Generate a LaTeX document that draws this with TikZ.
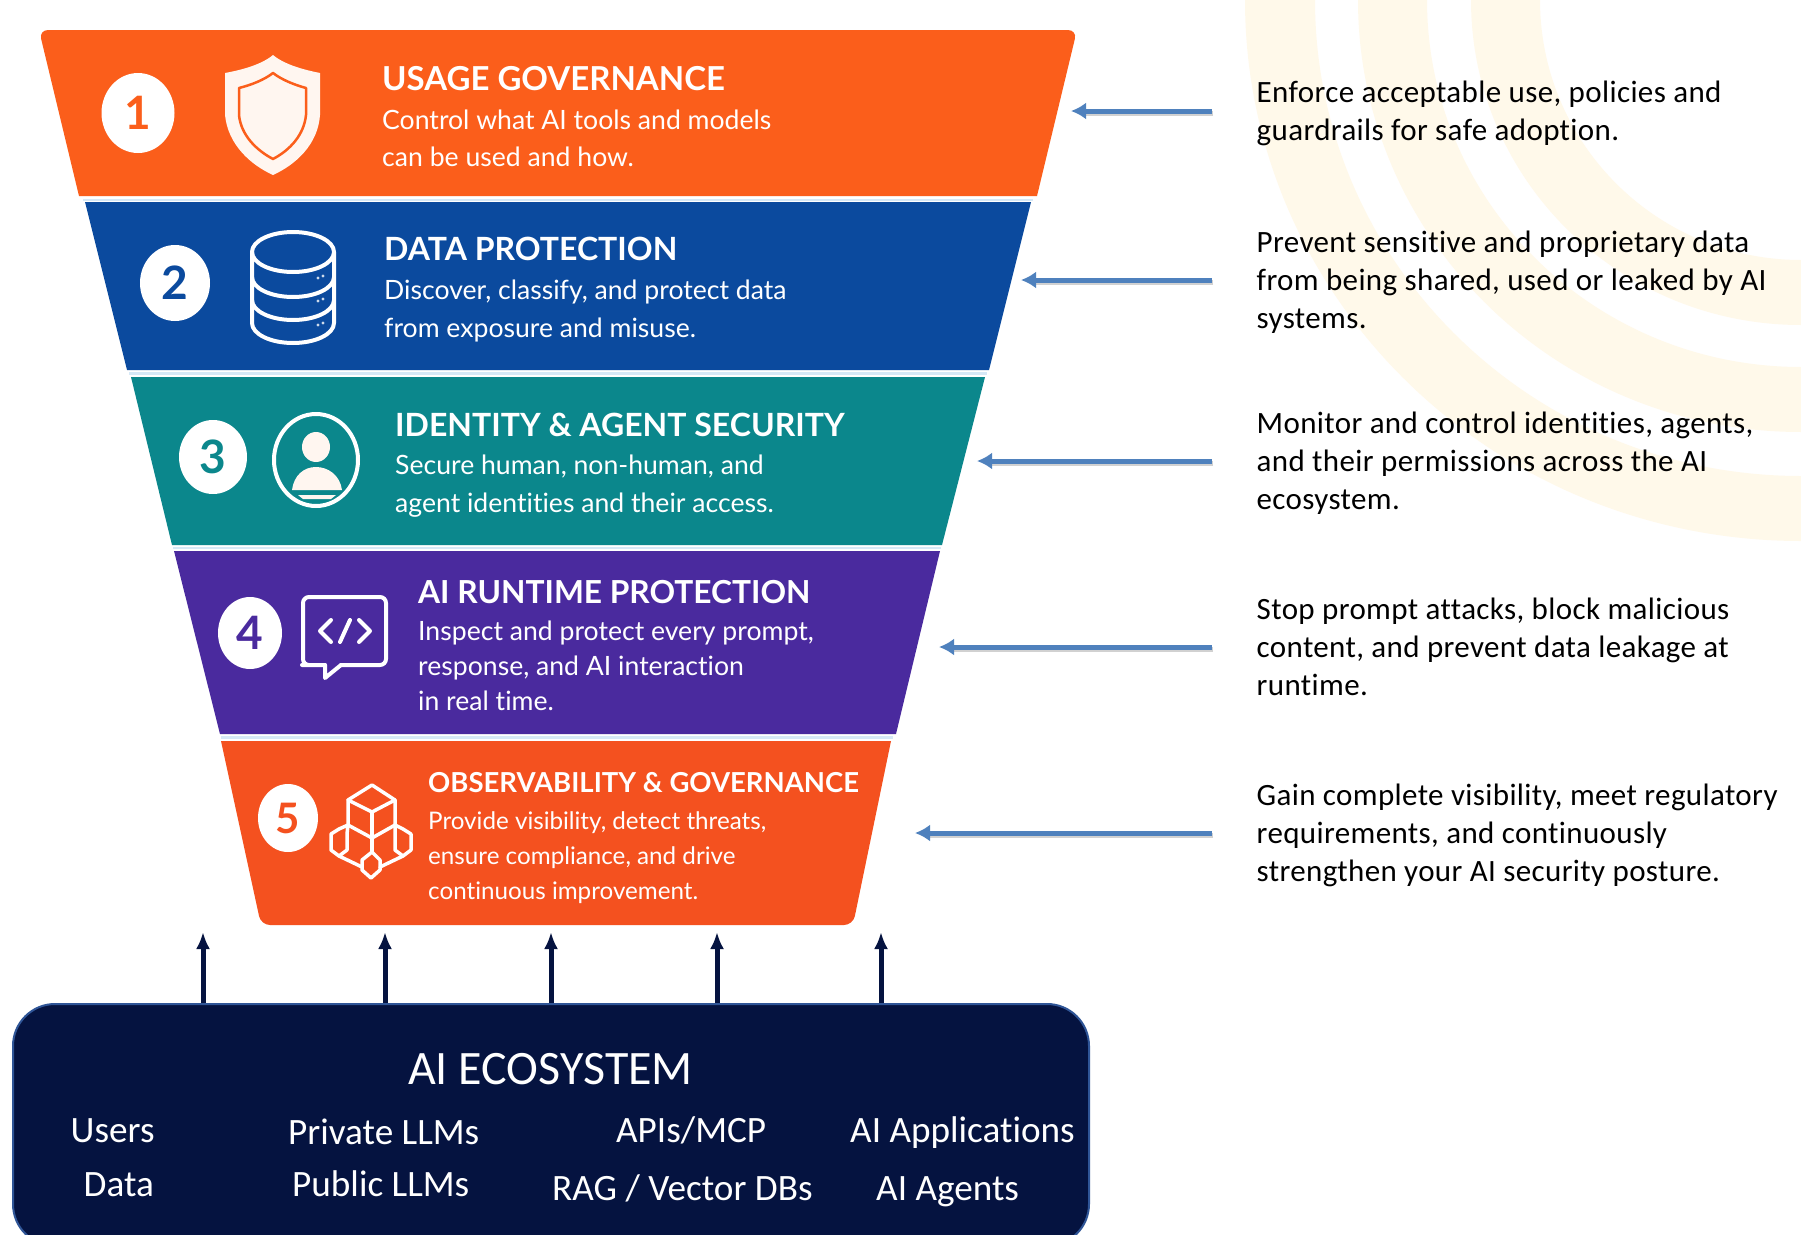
\documentclass[tikz,border=0pt]{standalone}
\usepackage{fontspec}
\usetikzlibrary{arrows.meta}
\newfontfamily\bandf[Ligatures=NoCommon]{Lato}
\newfontfamily\calf[Ligatures=NoCommon]{Carlito}
\newfontfamily\sidef[LetterSpace=1.2,Ligatures=NoCommon]{Carlito}
\definecolor{cOrange}{HTML}{FB5E1B}
\definecolor{cBlue}{HTML}{0B4A9E}
\definecolor{cTeal}{HTML}{0B878C}
\definecolor{cPurple}{HTML}{4A2A9E}
\definecolor{cRed}{HTML}{F4511F}
\definecolor{cNavy}{HTML}{051340}
\definecolor{cEdge}{HTML}{2F5597}
\definecolor{cArrow}{HTML}{4F81BD}
\definecolor{cRing}{HTML}{FFF9EA}
\definecolor{cGap}{HTML}{D6E8F6}
\definecolor{cIcon}{HTML}{FFF6F0}
\tikzset{
  x=1pt,y=-1pt,
  gapline/.style={draw=cGap,line width=2.5pt},
  numdisc/.style={fill=white,draw=none},
  numtext/.style={font=\bandf\bfseries\fontsize{46}{46}\selectfont,inner sep=0pt,anchor=center},
  title/.style={font=\bandf\bfseries\fontsize{32}{32}\selectfont,text=white,inner sep=0pt,anchor=base west},
  sub/.style={font=\bandf\fontsize{26.6}{26.6}\selectfont,text=white,inner sep=0pt,anchor=base west},
  subsmall/.style={sub,font=\bandf\fontsize{24.2}{24.2}\selectfont},
  icon/.style={draw=white,line width=4pt,line join=round,line cap=round},
  side/.style={font=\sidef\fontsize{31}{38}\selectfont,text=black,inner sep=0pt,anchor=north west,align=left},
  ecoT/.style={font=\calf\fontsize{37.2}{37.2}\selectfont,text=white,inner sep=0pt,anchor=base west},
  blueline/.style={draw=cArrow,line width=5pt,-{Latex[length=15pt,width=17pt]}},
  blueshadow/.style={draw=black,opacity=.18,line width=5pt},
  navyline/.style={draw=cNavy,line width=5pt,-{Latex[length=17pt,width=14pt]}},
  ring/.style={fill=cRing,draw=none},
}
\begin{document}
\begin{tikzpicture}
\useasboundingbox (0,0) rectangle (1801,1234);
\fill[white] (0,0) rectangle (1801,1234);
% background rings
\foreach \ox/\oy/\ix/\iy in {556/541/486/476,443/432/374/367,330/325/261/260}{
  \fill[ring] (1801-\ox,0) arc[start angle=180,end angle=90,x radius=\ox,y radius=\oy]
     -- (1801,\iy) arc[start angle=90,end angle=180,x radius=\ix,y radius=\iy] -- cycle;
}
% funnel bands
\fill[cOrange] (79,196) [rounded corners=9pt] -- (39,30) -- (1077,30) [sharp corners] -- (1037,196) -- cycle;
\fill[cBlue] (85,202) -- (1031,202) -- (989,370) -- (127,370) -- cycle;
\fill[cTeal] (131,377) -- (985,377) -- (942,545) -- (172,545) -- cycle;
\fill[cPurple] (174,551) -- (940,551) -- (896,734) -- (220,734) -- cycle;
\fill[cRed] (221,741) -- (891,741) [rounded corners=9pt] -- (853,925) -- (261,925) [sharp corners] -- cycle;
\draw[gapline] (83,200) -- (1033,200);
\draw[gapline] (129,373.5) -- (987,373.5);
\draw[gapline] (173,548) -- (941,548);
\draw[gapline] (221,737.5) -- (893,737.5);
% number discs
\fill[numdisc] (138,113) circle[x radius=36.5,y radius=40];
\node[numtext,text=cOrange] (n1) at (138,113) {1};
\fill[numdisc] (175,283) circle[x radius=35,y radius=38];
\node[numtext,text=cBlue] (n2) at (175,283) {2};
\fill[numdisc] (213,457) circle[x radius=34,y radius=37];
\node[numtext,text=cTeal] (n3) at (213,457) {3};
\fill[numdisc] (250,633) circle[x radius=32,y radius=36];
\node[numtext,text=cPurple] (n4) at (250,633) {4};
\fill[numdisc] (288,818) circle[x radius=30,y radius=34];
\node[numtext,text=cRed,font=\bandf\bfseries\fontsize{42}{42}\selectfont] (n5) at (288,818) {5};
% shield
\fill[cIcon] (273,55) .. controls (285,65) and (305,70) .. (320,73) -- (320,115)
  .. controls (318,145) and (295,165) .. (273,175)
  .. controls (251,165) and (228,145) .. (225,115) -- (225,73)
  .. controls (241,70) and (261,65) .. (273,55) -- cycle;
\draw[cOrange,line width=2.5pt,line join=round] (273,73) .. controls (282,80) and (295,85) .. (306,88) -- (306,115)
  .. controls (304,135) and (290,150) .. (273,159)
  .. controls (256,150) and (241,135) .. (239,115) -- (239,88)
  .. controls (251,85) and (264,80) .. (273,73) -- cycle;
% database
\draw[icon] (293,252) ellipse[x radius=41,y radius=20];
\draw[icon] (252,252) -- (252,323) arc[start angle=180,end angle=0,x radius=41,y radius=20] -- (334,252);
\draw[icon] (252,277) arc[start angle=180,end angle=0,x radius=41,y radius=20];
\draw[icon] (252,300) arc[start angle=180,end angle=0,x radius=41,y radius=20];
\foreach \dy in {278,301,325}{
  \fill[white,opacity=.8] (318,\dy) circle[radius=1.6] (323,\dy-2) circle[radius=1.6];
}
% person
\draw[icon] (316,460) ellipse[x radius=42,y radius=46];
\fill[cIcon] (316,447) ellipse[x radius=14,y radius=15];
\fill[cIcon] (292,490) .. controls (294,475) and (304,467) .. (316,467) .. controls (328,467) and (340,475) .. (342,490) -- cycle;
\fill[cIcon] (298,495) -- (336,495) -- (331,499) -- (303,499) -- cycle;
% code bubble
\draw[icon,rounded corners=6pt] (325,665) -- (308,665) -- (303,665) -- (303,597) -- (386,597) -- (386,665) -- (341,665);
\draw[icon] (325,665) -- (325,678) -- (341,665);
\draw[icon] (331,620) -- (320,631) -- (331,642);
\draw[icon] (340,642) -- (350,620);
\draw[icon] (359,620) -- (370,631) -- (359,642);
% cube
\draw[icon,line width=3.5pt] (372,785) -- (395,800) -- (395,825) -- (372,838) -- (348,825) -- (348,800) -- cycle;
\draw[icon,line width=3.5pt] (348,800) -- (372,812) -- (395,800);
\draw[icon,line width=3.5pt] (372,812) -- (372,852);
\draw[icon,line width=3.5pt] (348,825) -- (339,829) -- (331,834) -- (331,850) -- (339,856) -- (347,850) -- (347,834) -- cycle;
\draw[icon,line width=3.5pt] (395,825) -- (403,829) -- (411,834) -- (411,850) -- (403,856) -- (395,850) -- (395,834) -- cycle;
\draw[icon,line width=3.5pt] (339,856) -- (362,867);
\draw[icon,line width=3.5pt] (403,856) -- (380,867);
\draw[icon,line width=3.5pt] (372,852) -- (380,860) -- (380,870) -- (371,878) -- (362,870) -- (362,860) -- cycle;
% band texts
\node[title,font=\bandf\bfseries\fontsize{33}{33}\selectfont] (t1) at (382,90) {USAGE GOVERNANCE};
\node[sub] (s1a) at (382,129) {Control what AI tools and models};
\node[sub] (s1b) at (382,166) {can be used and how.};
\node[title] (t2) at (384,260) {DATA PROTECTION};
\node[sub] (s2a) at (384,299) {Discover, classify, and protect data};
\node[sub] (s2b) at (384,337) {from exposure and misuse.};
\node[title] (t3) at (395,436) {IDENTITY \& AGENT SECURITY};
\node[sub] (s3a) at (395,474) {Secure human, non-human, and};
\node[sub] (s3b) at (395,512) {agent identities and their access.};
\node[title,font=\bandf\bfseries\fontsize{31.7}{31.7}\selectfont] (t4) at (418,603) {AI RUNTIME PROTECTION};
\node[sub] (s4a) at (418,640) {Inspect and protect every prompt,};
\node[sub] (s4b) at (418,675) {response, and AI interaction};
\node[sub] (s4c) at (418,710) {in real time.};
\node[title,font=\bandf\bfseries\fontsize{27.5}{27.5}\selectfont] (t5) at (428,792) {OBSERVABILITY \& GOVERNANCE};
\node[subsmall] (s5a) at (428,829) {Provide visibility, detect threats,};
\node[subsmall] (s5b) at (428,864) {ensure compliance, and drive};
\node[subsmall] (s5c) at (428,899) {continuous improvement.};
% side texts
\node[side] (d1) at (1256.5,75.8) {\strut Enforce acceptable use, policies and\\\strut guardrails for safe adoption.};
\node[side] (d2) at (1256.5,225.8) {\strut Prevent sensitive and proprietary data\\\strut from being shared, used or leaked by AI\\\strut systems.};
\node[side] (d3) at (1256.5,406.9) {\strut Monitor and control identities, agents,\\\strut and their permissions across the AI\\\strut ecosystem.};
\node[side] (d4) at (1256.5,592.4) {\strut Stop prompt attacks, block malicious\\\strut content, and prevent data leakage at\\\strut runtime.};
\node[side] (d5) at (1256.5,778.4) {\strut Gain complete visibility, meet regulatory\\\strut requirements, and continuously\\\strut strengthen your AI security posture.};
% blue arrows
\coordinate (a1s) at (1212,111); \coordinate (a1e) at (1071,111);
\coordinate (a2s) at (1212,280); \coordinate (a2e) at (1021,280);
\coordinate (a3s) at (1212,461); \coordinate (a3e) at (977,461);
\coordinate (a4s) at (1212,647); \coordinate (a4e) at (939,647);
\coordinate (a5s) at (1212,833); \coordinate (a5e) at (915,833);
\foreach \k in {1,...,5}{
  \draw[blueshadow] ([shift={(1pt,-2.5pt)}]a\k s) -- ([shift={(15pt,-2.5pt)}]a\k e);
  \draw[blueline] (a\k s) -- (a\k e);
}
% ecosystem box
\begin{scope}
\clip (0,0) rectangle (1801,1234);
\node[fill=cNavy,draw=cEdge,line width=2pt,rounded corners=42pt,minimum width=1076pt,minimum height=242pt,inner sep=0pt,anchor=north west] (eco) at (12,1003) {};
\end{scope}
\coordinate (u1) at (203,932);
\coordinate (u2) at (385,932);
\coordinate (u3) at (551,932);
\coordinate (u4) at (717,932);
\coordinate (u5) at (881,932);
\foreach \k in {1,...,5}{
  \draw[navyline] (u\k |- eco.north) -- (u\k);
}
\node[ecoT,font=\calf\fontsize{48}{48}\selectfont] (e0) at (408,1084) {AI ECOSYSTEM};
\node[ecoT] (e1) at (70.5,1142) {Users};
\node[ecoT] (e2) at (83.5,1196) {Data};
\node[ecoT] (e3) at (288,1144) {Private LLMs};
\node[ecoT] (e4) at (292,1196) {Public LLMs};
\node[ecoT] (e5) at (616,1142) {APIs/MCP};
\node[ecoT] (e6) at (552,1200) {RAG / Vector DBs};
\node[ecoT] (e7) at (850,1142) {AI Applications};
\node[ecoT] (e8) at (876,1200) {AI Agents};
\end{tikzpicture}
\end{document}
